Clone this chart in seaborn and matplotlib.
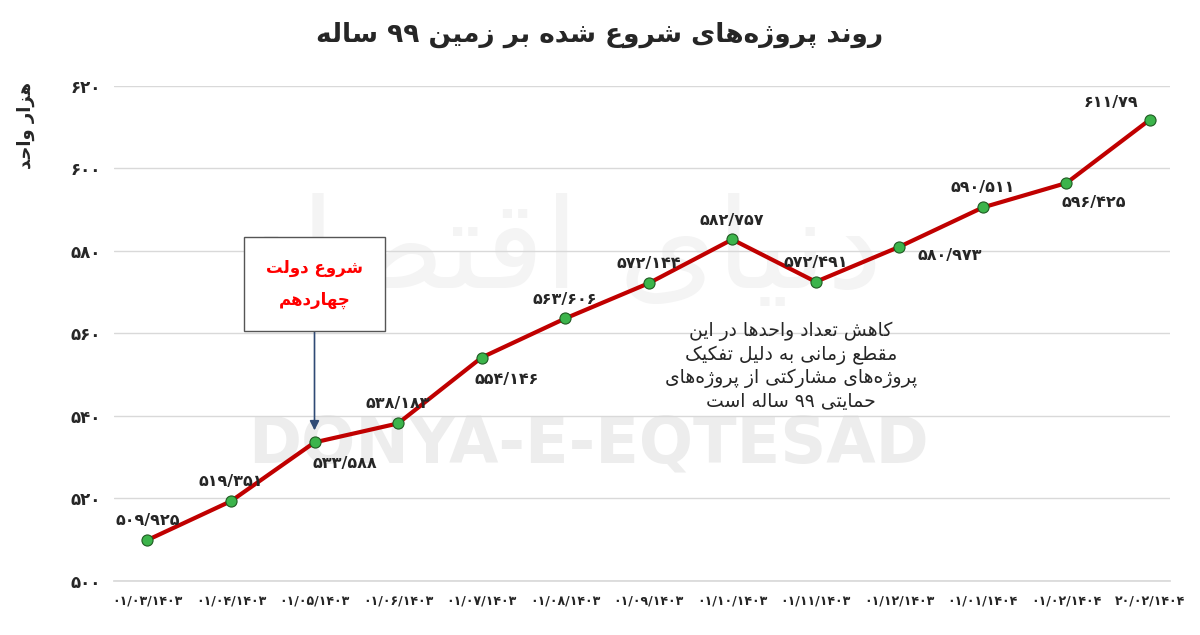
import matplotlib
matplotlib.use("Agg")
import matplotlib.pyplot as plt
import seaborn as sns
import pandas as pd

# data
dates = ["۰۱/۰۳/۱۴۰۳", "۰۱/۰۴/۱۴۰۳", "۰۱/۰۵/۱۴۰۳", "۰۱/۰۶/۱۴۰۳", "۰۱/۰۷/۱۴۰۳",
         "۰۱/۰۸/۱۴۰۳", "۰۱/۰۹/۱۴۰۳", "۰۱/۱۰/۱۴۰۳", "۰۱/۱۱/۱۴۰۳", "۰۱/۱۲/۱۴۰۳",
         "۰۱/۰۱/۱۴۰۴", "۰۱/۰۲/۱۴۰۴", "۲۰/۰۲/۱۴۰۴"]
units = [509.925, 519.351, 533.588, 538.183, 554.146, 563.606, 572.144,
         582.757, 572.491, 580.973, 590.511, 596.425, 611.79]
value_labels = ["۵۰۹/۹۲۵", "۵۱۹/۳۵۱", "۵۳۳/۵۸۸", "۵۳۸/۱۸۳", "۵۵۴/۱۴۶", "۵۶۳/۶۰۶",
                "۵۷۲/۱۴۴", "۵۸۲/۷۵۷", "۵۷۲/۴۹۱", "۵۸۰/۹۷۳", "۵۹۰/۵۱۱", "۵۹۶/۴۲۵", "۶۱۱/۷۹"]
y_ticks = [500, 520, 540, 560, 580, 600, 620]
y_tick_labels = ["۵۰۰", "۵۲۰", "۵۴۰", "۵۶۰", "۵۸۰", "۶۰۰", "۶۲۰"]

title = "روند پروژه‌های شروع شده بر زمین ۹۹ ساله"
y_label = "هزار واحد"
box_text = "شروع دولت\nچهاردهم"
note_text = "کاهش تعداد واحدها در این\nمقطع زمانی به دلیل تفکیک\nپروژه‌های مشارکتی از پروژه‌های\nحمایتی ۹۹ ساله است"

# minimal Persian shaping: (isolated, final, initial, medial); 2-tuple = joins right only
FORMS = {
    "ا": (0xFE8D, 0xFE8E), "د": (0xFEA9, 0xFEAA), "ذ": (0xFEAB, 0xFEAC),
    "ر": (0xFEAD, 0xFEAE), "ز": (0xFEAF, 0xFEB0), "ژ": (0xFB8A, 0xFB8B),
    "و": (0xFEED, 0xFEEE),
    "ب": (0xFE8F, 0xFE90, 0xFE91, 0xFE92), "پ": (0xFB56, 0xFB57, 0xFB58, 0xFB59),
    "ت": (0xFE95, 0xFE96, 0xFE97, 0xFE98), "ث": (0xFE99, 0xFE9A, 0xFE9B, 0xFE9C),
    "ج": (0xFE9D, 0xFE9E, 0xFE9F, 0xFEA0), "چ": (0xFB7A, 0xFB7B, 0xFB7C, 0xFB7D),
    "ح": (0xFEA1, 0xFEA2, 0xFEA3, 0xFEA4), "خ": (0xFEA5, 0xFEA6, 0xFEA7, 0xFEA8),
    "س": (0xFEB1, 0xFEB2, 0xFEB3, 0xFEB4), "ش": (0xFEB5, 0xFEB6, 0xFEB7, 0xFEB8),
    "ص": (0xFEB9, 0xFEBA, 0xFEBB, 0xFEBC), "ض": (0xFEBD, 0xFEBE, 0xFEBF, 0xFEC0),
    "ط": (0xFEC1, 0xFEC2, 0xFEC3, 0xFEC4), "ظ": (0xFEC5, 0xFEC6, 0xFEC7, 0xFEC8),
    "ع": (0xFEC9, 0xFECA, 0xFECB, 0xFECC), "غ": (0xFECD, 0xFECE, 0xFECF, 0xFED0),
    "ف": (0xFED1, 0xFED2, 0xFED3, 0xFED4), "ق": (0xFED5, 0xFED6, 0xFED7, 0xFED8),
    "ک": (0xFB8E, 0xFB8F, 0xFB90, 0xFB91), "گ": (0xFB92, 0xFB93, 0xFB94, 0xFB95),
    "ل": (0xFEDD, 0xFEDE, 0xFEDF, 0xFEE0), "م": (0xFEE1, 0xFEE2, 0xFEE3, 0xFEE4),
    "ن": (0xFEE5, 0xFEE6, 0xFEE7, 0xFEE8), "ه": (0xFEE9, 0xFEEA, 0xFEEB, 0xFEEC),
    "ی": (0xFBFC, 0xFBFD, 0xFBFE, 0xFBFF),
}


def shape_line(s):
    out = []
    for i, ch in enumerate(s):
        if ch == "\u200c":
            continue
        f = FORMS.get(ch)
        if f is None:
            out.append(ch)
            continue
        prev = s[i - 1] if i > 0 else ""
        nxt = s[i + 1] if i + 1 < len(s) else ""
        join_prev = prev in FORMS and len(FORMS[prev]) == 4
        join_next = len(f) == 4 and nxt in FORMS
        if join_prev and join_next:
            c = f[3]
        elif join_prev:
            c = f[1]
        elif join_next:
            c = f[2]
        else:
            c = f[0]
        out.append(chr(c))
    return "".join(out)[::-1]


def fa(s):
    return "\n".join(shape_line(line) for line in s.split("\n"))


sns.set_theme(style="white")
plt.rcParams["font.family"] = ["DejaVu Sans"]

df = pd.DataFrame({"date": dates, "units": units})
fig, ax = plt.subplots(figsize=(12, 6.35), dpi=100)
fig.subplots_adjust(left=0.095, right=0.975, top=0.865, bottom=0.085)

# watermark, kept behind everything
ax.text(0.49, 0.30, "DONYA-E-EQTESAD", transform=fig.transFigure, fontsize=46,
        color="#ededed", fontweight="bold", ha="center", va="center", zorder=0)
ax.text(0.47, 0.60, fa("دنیای اقتصاد"), transform=fig.transFigure, fontsize=90,
        color="#f4f4f4", ha="center", va="center", zorder=0)

sns.lineplot(data=df, x="date", y="units", ax=ax, sort=False, color="#c00000",
             linewidth=3, marker="o", markersize=8, markerfacecolor="#3cb44b",
             markeredgecolor="#1f5a22", markeredgewidth=0.8, zorder=3)

ax.set_ylim(500, 620)
ax.set_yticks(y_ticks)
ax.set_yticklabels(y_tick_labels, fontsize=12, fontweight="bold")
ax.tick_params(axis="x", labelsize=9)
for t in ax.get_xticklabels():
    t.set_fontweight("bold")
ax.set_xlim(-0.4, len(dates) - 0.76)
ax.grid(axis="y", color="#d9d9d9", linewidth=1, zorder=1)
ax.set_axisbelow(True)
for s in ["top", "right", "left"]:
    ax.spines[s].set_visible(False)
ax.spines["bottom"].set_color("#d9d9d9")
ax.set_xlabel("")
ax.set_ylabel(fa(y_label), fontsize=13, fontweight="bold", labelpad=18)
ax.yaxis.set_label_coords(-0.075, 0.92)
fig.suptitle(fa(title), fontsize=19, fontweight="bold", y=0.965)

# value label offsets (points)
offsets = [(0, 14), (0, 14), (22, -15), (0, 14), (18, -16), (0, 14), (0, 14),
           (0, 14), (0, 14), (36, -6), (0, 14), (20, -14), (-28, 12)]
for i, (v, lab, off) in enumerate(zip(units, value_labels, offsets)):
    ax.annotate(lab, (i, v), xytext=off, textcoords="offset points",
                ha="center", va="center", fontsize=11.5, fontweight="bold", zorder=5)

# arrow box
ax.text(2, 572, fa(box_text), color="red", fontsize=12, fontweight="bold",
        ha="center", va="center", linespacing=2.0, zorder=5,
        bbox=dict(boxstyle="square,pad=1.3", facecolor="white", edgecolor="#555555"))
ax.annotate("", xy=(2, 536.5), xytext=(2, 561.5),
            arrowprops=dict(arrowstyle="-|>", color="#2f4a75", lw=1.2,
                            mutation_scale=14, shrinkA=0, shrinkB=0), zorder=4)

ax.text(7.7, 552, fa(note_text), fontsize=13.5, ha="center", va="center",
        linespacing=1.25, zorder=5)

fig.savefig("out.png", dpi=100)
